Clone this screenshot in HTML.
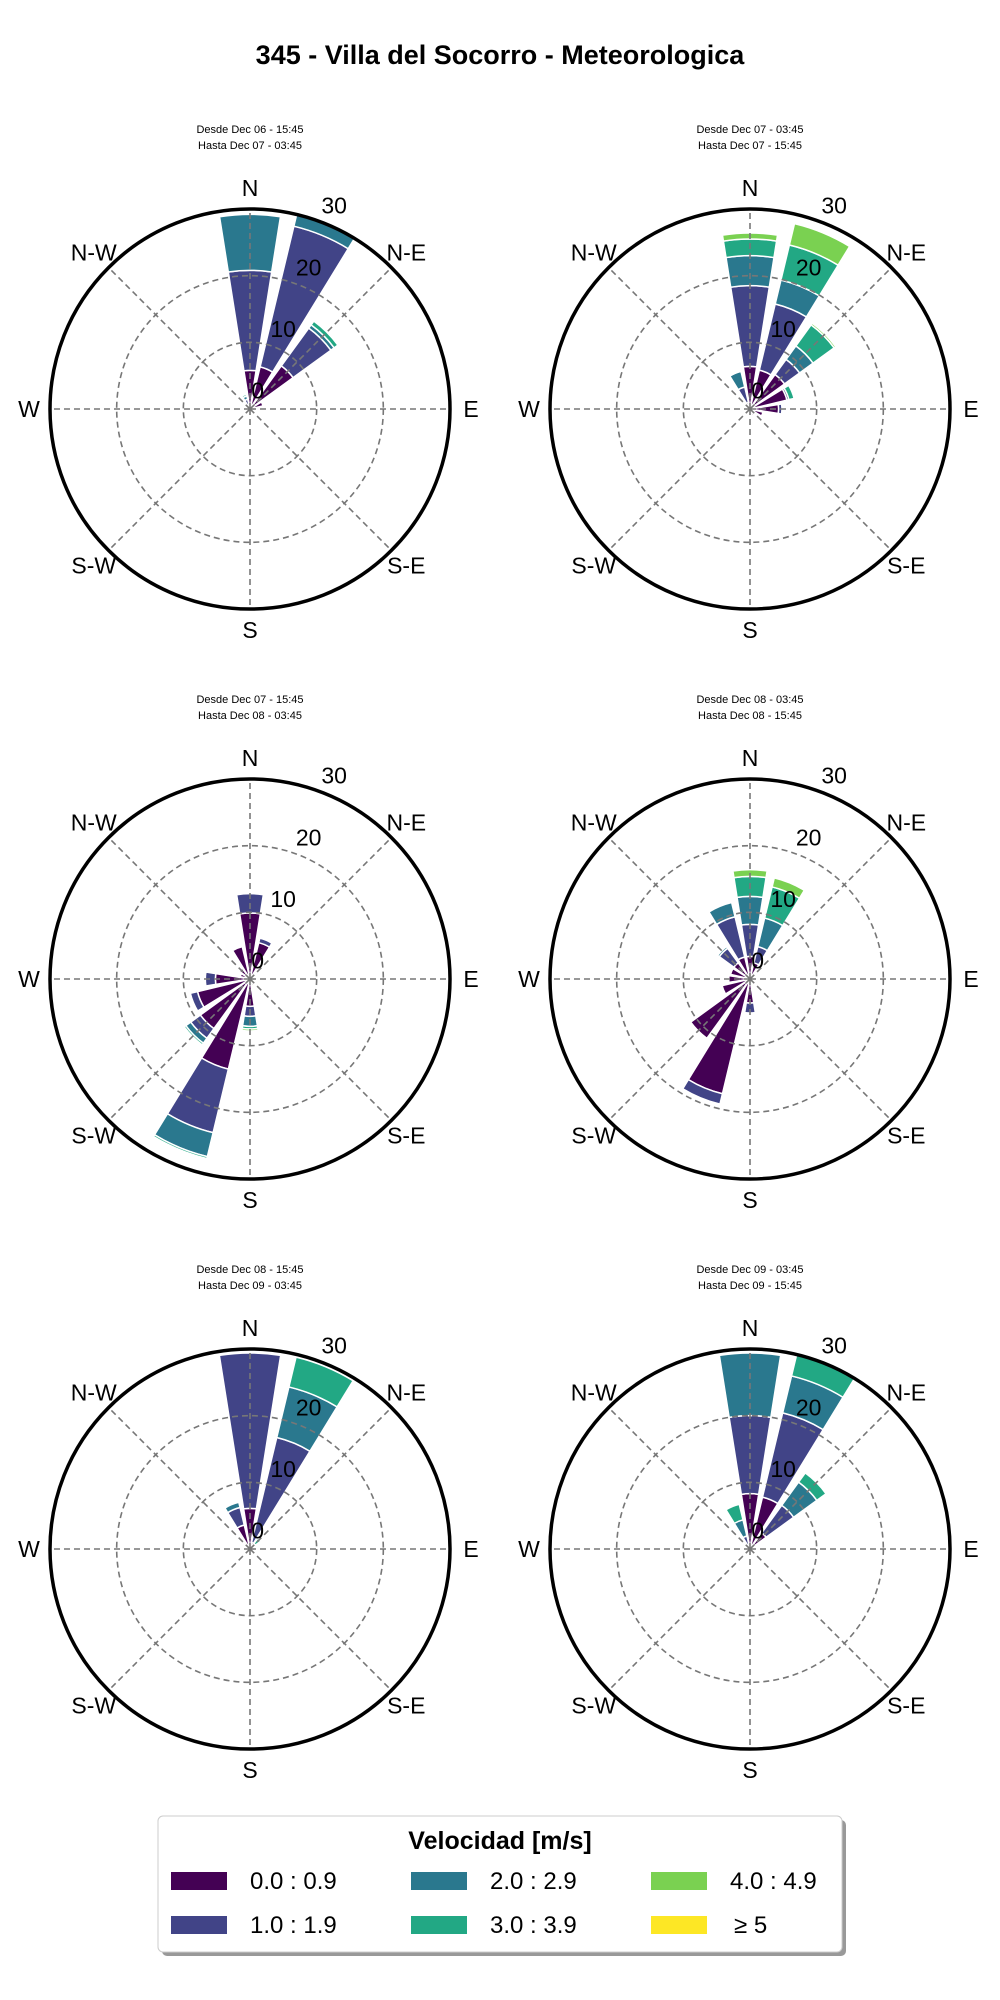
<!DOCTYPE html>
<html><head><meta charset="utf-8">
<style>
html,body{margin:0;padding:0;background:#fff;}
body{width:1000px;height:2000px;position:relative;overflow:hidden;font-family:"Liberation Sans",sans-serif;}
svg{position:absolute;left:0;top:0;}
</style></head>
<body>
<svg id="chart" width="1000" height="2000" viewBox="0 0 1000 2000" xmlns="http://www.w3.org/2000/svg">
  <text x="500" y="64" text-anchor="middle" font-family="Liberation Sans, sans-serif" font-weight="bold" font-size="27" fill="#000">345 - Villa del Socorro - Meteorologica</text>
  <g id="panels"></g>
  <g>
    <rect x="162" y="1820" width="684" height="136" rx="5" fill="#999"/>
    <rect x="158" y="1816" width="684" height="136" rx="5" fill="#fff" stroke="#ccc" stroke-width="1"/>
    <text x="500" y="1849" text-anchor="middle" font-weight="bold" font-size="25" fill="#000">Velocidad [m/s]</text>
    <g id="legend-items"></g>
  </g>
</svg>
<script>
const directions = ["N","NNE","NE","ENE","E","ESE","SE","SSE","S","SSW","SW","WSW","W","WNW","NW","NNW"];
const binLabels = ["0.0 : 0.9","1.0 : 1.9","2.0 : 2.9","3.0 : 3.9","4.0 : 4.9","\u2265  5"];
const binColors = ["#440154","#414487","#2a788e","#22a884","#7ad151","#fde725"];
const radialTicks = [0,10,20,30];
const compassLabels = ["N","N-E","E","S-E","S","S-W","W","N-W"];
const panelTitles = [
  ["Desde Dec 06 - 15:45","Hasta Dec 07 - 03:45"],
  ["Desde Dec 07 - 03:45","Hasta Dec 07 - 15:45"],
  ["Desde Dec 07 - 15:45","Hasta Dec 08 - 03:45"],
  ["Desde Dec 08 - 03:45","Hasta Dec 08 - 15:45"],
  ["Desde Dec 08 - 15:45","Hasta Dec 09 - 03:45"],
  ["Desde Dec 09 - 03:45","Hasta Dec 09 - 15:45"]
];
// frequency (%) per direction per speed bin: {direction: [b0..b5]}
const panel1 = {N:[5.8,15.0,8.4,0,0,0], NNE:[6.5,21.7,1.9,0,0,0], NE:[8,7,0.6,0.7,0,0], ENE:[2,0,0,0,0,0], NNW:[0.5,1.0,0.5,0.3,0,0]};
const panel2 = {N:[6.4,12.1,4.5,2.5,0.9,0], NNE:[6,10.2,3.7,5.4,3.3,0], NE:[6.4,2.8,2.5,3.9,0.3,0], ENE:[5.7,0.3,0,0.8,0,0], E:[4.3,0.5,0,0,0,0], ESE:[2,0,0,0,0,0], S:[1,0,0,0,0,0], SSE:[1,0,0,0,0,0], NW:[0.5,0,0,0,0,0], NNW:[1,2.4,2.4,0.2,0,0]};
const panel3 = {N:[9.9,2.9,0,0,0,0], NNE:[5.6,0.7,0,0,0,0], NNW:[5,0,0,0,0,0], NW:[2,0,0,0,0,0], WNW:[1.5,0,0,0,0,0], W:[5.2,1.5,0,0,0,0], WSW:[8.1,1.1,0,0,0,0], SW:[9.2,1.8,0.9,0.3,0,0], SSW:[13.9,9.8,3.7,0.3,0,0], S:[4.1,1.5,1.5,0.4,0.3,0], SSE:[1,0,0,0,0,0]};
const panel4 = {N:[3.4,4.8,4.2,3.0,1.0,0], NNE:[2.5,2.5,4.4,4.8,1.4,0], NNW:[3.4,6.2,2.2,0,0,0], NW:[3,2.7,0.3,0,0,0], WNW:[3,0,0,0,0,0], W:[3.2,0,0,0,0,0], WSW:[4.3,0,0,0,0,0], SW:[11,0,0,0,0,0], SSW:[17.7,1.6,0,0,0,0], S:[3.6,1.5,0,0,0,0]};
const panel5 = {N:[6.1,23.3,0,0,0,0], NNE:[1,16.2,7.8,4.6,0,0], NE:[1,0,0,1,0,0], NNW:[3.7,2.7,0.8,0,0,0]};
const panel6 = {N:[8.3,11.7,9.4,0,0,0], NNE:[8,13,5.7,3.5,0,0], NE:[3,5.1,4.3,1.7,0,0], NNW:[0.5,1.5,2.5,2.4,0,0]};
const panelData = [panel1,panel2,panel3,panel4,panel5,panel6];

const NS = "http://www.w3.org/2000/svg";
const centers = [[250,409],[750,409],[250,979],[750,979],[250,1549],[750,1549]];
const R = 200, RMAX = 30;
const rScale = v => v / RMAX * R;
const angScale = i => i * 22.5;
function pt(cx,cy,r,deg){const a=deg*Math.PI/180;return [cx+r*Math.sin(a), cy-r*Math.cos(a)];}
function mk(tag, attrs){const e=document.createElementNS(NS,tag);for(const k in attrs)e.setAttribute(k,attrs[k]);return e;}

const root = document.getElementById("panels");
panelData.forEach((data, p) => {
  const [cx,cy] = centers[p];
  const g = mk("g",{});
  
  
  root.appendChild(g);
  // subtitle
  panelTitles[p].forEach((t,li) => {
    const tx = mk("text",{x:cx, y:cy-276+li*16, "text-anchor":"middle","font-size":"11",fill:"#000"});
    
    
    tx.textContent = t; g.appendChild(tx);
  });
  const clipId = "clip"+p;
  const cp = mk("clipPath",{id:clipId}); cp.appendChild(mk("circle",{cx:cx,cy:cy,r:R})); g.appendChild(cp);
  const bars = mk("g",{"clip-path":"url(#"+clipId+")"});
  
  
  g.appendChild(bars);
  directions.forEach((d, di) => {
    const vals = data[d]; if(!vals) return;
    let cum = 0;
    const th = angScale(di), half = 9;
    vals.forEach((v, bi) => {
      if(v <= 0) return;
      const r0 = rScale(cum), r1 = rScale(cum+v); cum += v;
      const a = pt(cx,cy,r0,th-half), b = pt(cx,cy,r1,th-half), c = pt(cx,cy,r1,th+half), e = pt(cx,cy,r0,th+half);
      const dstr = `M${a[0]},${a[1]} L${b[0]},${b[1]} A${r1},${r1} 0 0 1 ${c[0]},${c[1]} L${e[0]},${e[1]} A${r0},${r0} 0 0 0 ${a[0]},${a[1]} Z`;
      const path = mk("path",{d:dstr, fill:binColors[bi], stroke:"#fff","stroke-width":"1.5"});
      
      
      bars.appendChild(path);
    });
  });
  // grid circles
  radialTicks.slice(1,3).forEach(v => {
    const c = mk("circle",{cx:cx,cy:cy,r:rScale(v),fill:"none",stroke:"#777","stroke-width":"1.6","stroke-dasharray":"6,4"});
    
    
    g.appendChild(c);
  });
  for(let k=0;k<8;k++){
    const e = pt(cx,cy,R,k*45);
    const l = mk("line",{x1:cx,y1:cy,x2:e[0],y2:e[1],stroke:"#777","stroke-width":"1.6","stroke-dasharray":"6,4"});
    
    
    g.appendChild(l);
  }
  const oc = mk("circle",{cx:cx,cy:cy,r:R,fill:"none",stroke:"#000","stroke-width":"3.5"});
  
  
  g.appendChild(oc);
  compassLabels.forEach((lab,k) => {
    const q = pt(cx,cy,221,k*45);
    const t = mk("text",{x:q[0],y:q[1]+8,"text-anchor":"middle","font-size":"23",fill:"#000"});
    
    
    t.textContent = lab; g.appendChild(t);
  });
  radialTicks.forEach(v => {
    const q = pt(cx,cy,rScale(v)+20,22.5);
    const t = mk("text",{x:q[0],y:q[1]+8,"text-anchor":"middle","font-size":"23",fill:"#000"});
    
    
    t.textContent = String(v); g.appendChild(t);
  });
});
// legend
const li = document.getElementById("legend-items");
binLabels.forEach((lab,i) => {
  const col = Math.floor(i/2), row = i%2;
  const x = 171 + col*240, y = 1872 + row*44;
  const r = mk("rect",{x:x,y:y,width:56,height:18,fill:binColors[i]});
  
  
  li.appendChild(r);
  const t = mk("text",{x:x+(i===5?83:79),y:y+17,"font-size":"24",fill:"#000","font-family":"Liberation Sans Narrow, Liberation Sans, sans-serif"});
  
  
  t.textContent = lab; li.appendChild(t);
});
</script>
</body></html>
